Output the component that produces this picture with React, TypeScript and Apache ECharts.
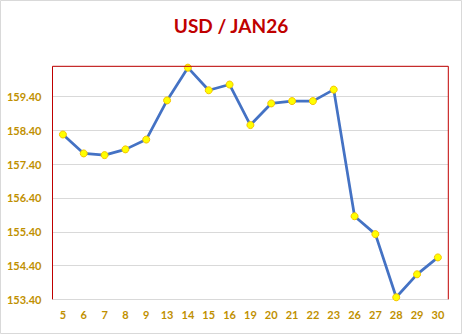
import React, { useEffect, useRef } from "react";
import * as echarts from "echarts";

const categories = ["5", "6", "7", "8", "9", "13", "14", "15", "16", "19", "20", "21", "22", "23", "26", "27", "28", "29", "30"];
const values = [158.28, 157.72, 157.67, 157.84, 158.13, 159.29, 160.26, 159.59, 159.76, 158.56, 159.2, 159.27, 159.27, 159.61, 155.86, 155.33, 153.46, 154.14, 154.64];
const yMin = 153.4;
const yMax = 160.3;
const yInterval = 1;

export default function App() {
  const ref = useRef<HTMLDivElement>(null);
  useEffect(() => {
    document.body.style.margin = "0";
    const chart = echarts.init(ref.current!, null, { renderer: "svg" });
    const gl = 52.5, gt = 66.3, gr = 13.7, gb = 34.7;
    const W = 462, H = 334;
    chart.setOption({
      animation: false,
      title: {
        text: "USD / JAN26",
        left: "center",
        top: 11,
        textStyle: { color: "#C00000", fontSize: 19, fontWeight: "bold", fontFamily: "Lato" },
      },
      grid: { left: gl, top: gt, right: gr, bottom: gb },
      xAxis: {
        type: "category",
        data: categories,
        boundaryGap: true,
        axisLine: { show: true, lineStyle: { color: "#d9d9d9", width: 1 } },
        axisTick: { show: false },
        axisLabel: { color: "#BF9000", fontWeight: "bold", fontSize: 11, fontFamily: "Lato", margin: 10, interval: 0 },
      },
      yAxis: {
        type: "value",
        min: yMin,
        max: yMax,
        interval: yInterval,
        axisLine: { show: false },
        axisTick: { show: false },
        splitLine: { lineStyle: { color: "#d9d9d9", width: 1 } },
        axisLabel: {
          color: "#BF9000",
          fontWeight: "bold",
          fontSize: 11,
          fontFamily: "Lato",
          margin: 11,
          showMaxLabel: false,
          formatter: (v: number) => v.toFixed(2),
        },
      },
      graphic: [
        {
          type: "polyline",
          z: 100,
          shape: { points: [[gl, H - gb], [gl, gt], [W - gr, gt], [W - gr, H - gb]] },
          style: { stroke: "#C00000", lineWidth: 1, fill: "none" },
        },
        {
          type: "rect",
          z: 100,
          shape: { x: 0.5, y: 0.5, width: W - 1, height: H - 1 },
          style: { stroke: "#d9d9d9", lineWidth: 1, fill: "none" },
        },
      ],
      series: [
        {
          type: "line",
          data: values,
          lineStyle: { color: "#4472C4", width: 2.75 },
          symbol: "circle",
          symbolSize: 7,
          itemStyle: { color: "#FFFF00", borderColor: "#F5C400", borderWidth: 1 },
          z: 10,
        },
      ],
    });
    return () => chart.dispose();
  }, []);
  return <div ref={ref} style={{ width: 462, height: 334 }} />;
}
